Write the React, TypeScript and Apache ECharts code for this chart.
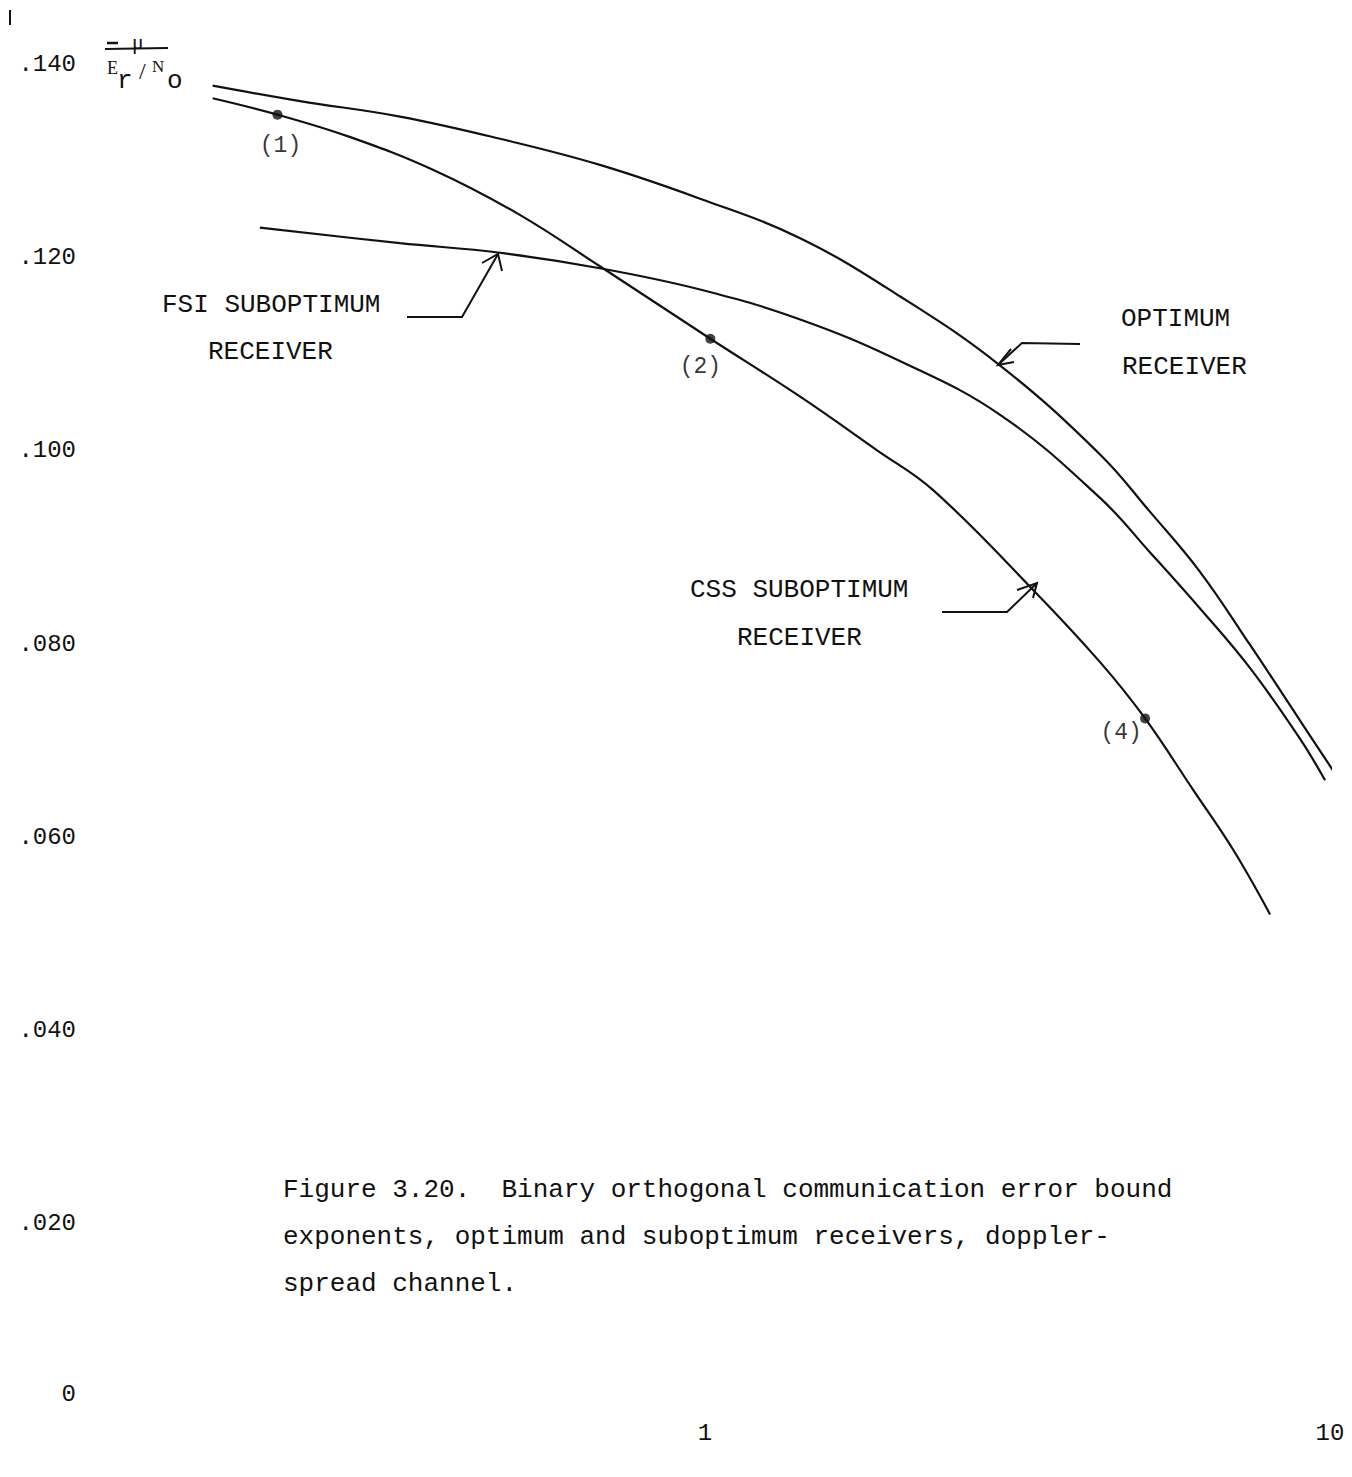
import React, { useEffect, useRef } from "react";
import * as echarts from "echarts";

// Optimum receiver
const xOpt = [0.163, 0.225, 0.325, 0.470, 0.679, 0.982, 1.42, 2.05, 2.97, 4.29, 5.15, 6.19, 7.45, 8.95, 10.65];
const yOpt = [0.1378, 0.1362, 0.1346, 0.1323, 0.1296, 0.1261, 0.1220, 0.1160, 0.1088, 0.0996, 0.0937, 0.0875, 0.0799, 0.0721, 0.0647];
// FSI suboptimum receiver
const xFsi = [0.194, 0.325, 0.470, 0.679, 0.982, 1.42, 2.05, 2.97, 4.29, 5.15, 6.19, 7.45, 8.95, 9.82];
const yFsi = [0.1231, 0.1215, 0.1205, 0.1189, 0.1167, 0.1136, 0.1093, 0.1037, 0.0951, 0.0895, 0.0837, 0.0775, 0.0702, 0.0659];
// CSS suboptimum receiver
const xCss = [0.163, 0.207, 0.270, 0.367, 0.500, 0.679, 1.02, 1.42, 1.88, 2.32, 3.35, 4.29, 5.06, 6.04, 7.00, 8.02];
const yCss = [0.1365, 0.1348, 0.1325, 0.1291, 0.1246, 0.1191, 0.1116, 0.1056, 0.1001, 0.0959, 0.0856, 0.0781, 0.0723, 0.0649, 0.0587, 0.0520];
// marked points on CSS curve
const ptLabels = ["(1)", "(2)", "(4)"];
const ptX = [0.207, 1.02, 5.06];
const ptY = [0.1348, 0.1116, 0.0723];
const ptOffsets = [[3, 31], [-10, 28], [-24, 15]];

const captionLines = [
  "Figure 3.20.  Binary orthogonal communication error bound",
  "exponents, optimum and suboptimum receivers, doppler-",
  "spread channel.",
];

const MONO = '"Liberation Mono", "DejaVu Sans Mono", monospace';
const SERIF = '"Liberation Serif", serif';
const INK = "#111";

function txt(text: string, x: number, y: number, size: number, family = MONO, align = "left") {
  return {
    type: "text",
    silent: true,
    style: {
      text,
      x,
      y,
      font: `${size}px ${family}`,
      fill: INK,
      align,
      textAlign: align,
      verticalAlign: "middle",
      textVerticalAlign: "middle",
    },
  };
}

function pl(points: number[][], w = 2) {
  return {
    type: "polyline",
    silent: true,
    shape: { points },
    style: { stroke: INK, lineWidth: w, fill: null },
  };
}

export default function App() {
  const ref = useRef<HTMLDivElement>(null);
  useEffect(() => {
    document.body.style.margin = "0";
    if (!ref.current) return;
    const chart = echarts.init(ref.current, null, { renderer: "svg" });
    const lineStyle = { color: INK, width: 2.2 };
    const mk = (xs: number[], ys: number[]) => xs.map((x, i) => [x, ys[i]]);
    const lineBase = {
      type: "line",
      smooth: 0.4,
      showSymbol: false,
      symbol: "none",
      clip: false,
      lineStyle,
    };
    chart.setOption({
      animation: false,
      backgroundColor: "#ffffff",
      grid: { left: 80, right: 22, top: 64.4, bottom: 60.2, containLabel: false },
      xAxis: {
        type: "log",
        logBase: 10,
        min: 0.1,
        max: 10,
        axisLine: { show: false },
        axisTick: { show: false },
        splitLine: { show: false },
        minorTick: { show: false },
        axisLabel: {
          color: INK,
          fontFamily: MONO,
          fontSize: 24,
          margin: 5,
          formatter: (v: number) => (v >= 1 ? String(Math.round(v)) : ""),
        },
      },
      yAxis: {
        type: "value",
        min: 0,
        max: 0.14,
        interval: 0.02,
        axisLine: { show: false },
        axisTick: { show: false },
        splitLine: { show: false },
        axisLabel: {
          color: INK,
          fontFamily: MONO,
          fontSize: 24,
          margin: 4,
          formatter: (v: number) => (v === 0 ? "{z|0}" : "." + String(Math.round(v * 1000)).padStart(3, "0")),
          rich: {
            z: { color: INK, fontFamily: MONO, fontSize: 24, padding: [0, 0, 44, 0] },
          },
        },
      },
      series: [
        { ...lineBase, name: "OPTIMUM RECEIVER", data: mk(xOpt, yOpt) },
        { ...lineBase, name: "FSI SUBOPTIMUM RECEIVER", data: mk(xFsi, yFsi) },
        { ...lineBase, name: "CSS SUBOPTIMUM RECEIVER", data: mk(xCss, yCss) },
        {
          type: "scatter",
          symbol: "circle",
          symbolSize: 10,
          itemStyle: { color: INK },
          clip: false,
          data: ptX.map((x, i) => ({
            value: [x, ptY[i]],
            label: {
              show: true,
              formatter: ptLabels[i],
              position: "inside",
              offset: ptOffsets[i],
              color: "#000",
              textBorderWidth: 0,
              fontFamily: MONO,
              fontSize: 23,
            },
          })),
        },
      ],
      graphic: [
        // scan mark top-left
        { type: "line", silent: true, shape: { x1: 10, y1: 10, x2: 10, y2: 25 }, style: { stroke: INK, lineWidth: 2 } },
        // y-axis quantity: -mu / (E_r/N_o)
        { type: "line", silent: true, shape: { x1: 107, y1: 43, x2: 118, y2: 43 }, style: { stroke: INK, lineWidth: 2.5 } },
        txt("\u03bc", 132, 41, 22, SERIF),
        { type: "line", silent: true, shape: { x1: 105, y1: 49, x2: 168, y2: 48 }, style: { stroke: INK, lineWidth: 2 } },
        txt("E", 107, 68, 18, SERIF),
        txt("r", 117, 81, 26, MONO),
        txt("/", 139, 71, 24, SERIF),
        txt("N", 152, 66, 17, SERIF),
        txt("o", 167, 81, 26, MONO),
        // curve labels
        txt("FSI SUBOPTIMUM", 162, 305, 26),
        txt("RECEIVER", 208, 352, 26),
        txt("OPTIMUM", 1121, 319, 26),
        txt("RECEIVER", 1122, 367, 26),
        txt("CSS SUBOPTIMUM", 690, 590, 26),
        txt("RECEIVER", 737, 638, 26),
        // arrows
        pl([[407, 317], [462, 317], [498, 254]]),
        pl([[482, 263], [498, 254], [502, 271]]),
        pl([[1080, 344], [1022, 343], [998, 365]]),
        pl([[1011, 349], [998, 365], [1014, 362]]),
        pl([[942, 612], [1007, 612], [1037, 583]]),
        pl([[1017, 590], [1037, 583], [1033, 598]]),
        // caption
        ...captionLines.map((t, i) => txt(t, 283, 1190 + i * 47, 26)),
      ],
    });
    return () => chart.dispose();
  }, []);
  return <div ref={ref} style={{ width: 1352, height: 1477 }} />;
}
